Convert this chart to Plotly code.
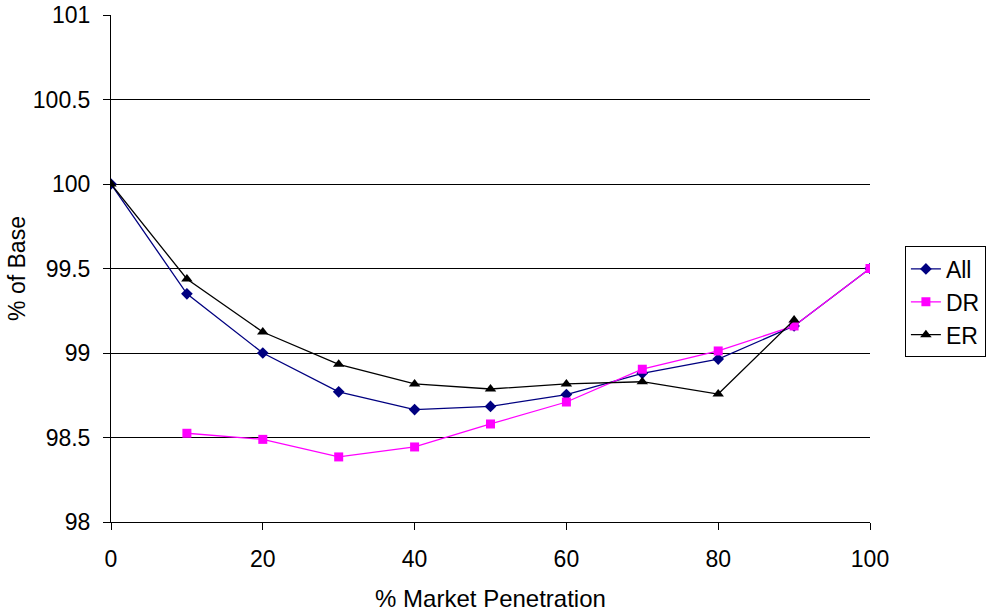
import plotly.graph_objects as go

x_all = [0, 10, 20, 30, 40, 50, 60, 70, 80, 90, 100]
all_vals = [100.0, 99.35, 99.0, 98.77, 98.665, 98.684, 98.754, 98.88, 98.964, 99.16, 99.5]
x_dr = [10, 20, 30, 40, 50, 60, 70, 80, 90, 100]
dr_vals = [98.525, 98.489, 98.385, 98.444, 98.58, 98.71, 98.904, 99.012, 99.16, 99.5]
x_er = [0, 10, 20, 30, 40, 50, 60, 70, 80, 90]
er_vals = [100.0, 99.438, 99.124, 98.933, 98.817, 98.787, 98.817, 98.83, 98.757, 99.195]

y_ticks = [98, 98.5, 99, 99.5, 100, 100.5, 101]
y_labels = ["98", "98.5", "99", "99.5", "100", "100.5", "101"]
x_ticks = [0, 20, 40, 60, 80, 100]

FONT = "Liberation Sans, Arial, sans-serif"
FS = 23
FT = 24

fig = go.Figure()
fig.add_trace(go.Scatter(x=x_all, y=all_vals, name="All", mode="lines+markers",
                         line=dict(color="#000080", width=1.3),
                         marker=dict(symbol="diamond", size=9, color="#000080")))
fig.add_trace(go.Scatter(x=x_dr, y=dr_vals, name="DR", mode="lines+markers",
                         line=dict(color="#FF00FF", width=1.3),
                         marker=dict(symbol="square", size=9, color="#FF00FF")))
fig.add_trace(go.Scatter(x=x_er, y=er_vals, name="ER", mode="lines+markers",
                         line=dict(color="#000000", width=1.3),
                         marker=dict(symbol="triangle-up", size=10, color="#000000")))

fig.update_layout(
    width=987, height=614,
    margin=dict(l=111, r=117, t=15, b=92, autoexpand=False),
    paper_bgcolor="white", plot_bgcolor="white",
    font=dict(family=FONT, size=FS, color="black"),
    legend=dict(x=1.046, y=0.434, xanchor="left", yanchor="middle",
                bordercolor="black", borderwidth=1, bgcolor="white",
                font=dict(size=FS), tracegroupgap=0, itemwidth=30),
    showlegend=True,
)
fig.update_xaxes(range=[0, 100], tickvals=x_ticks, showgrid=False,
                 showline=True, linecolor="black", linewidth=1,
                 ticks="outside", ticklen=7, tickcolor="black",
                 ticklabelstandoff=9, automargin=False,
                 title=dict(text="% Market Penetration", font=dict(size=FT), standoff=19),
                 zeroline=False)
fig.update_yaxes(range=[98, 101], tickvals=y_ticks, ticktext=y_labels,
                 showgrid=True, gridcolor="black", gridwidth=1,
                 showline=True, linecolor="black", linewidth=1,
                 ticks="outside", ticklen=7, tickcolor="black",
                 ticklabelstandoff=8, automargin=False,
                 title=dict(text="% of Base", font=dict(size=FS), standoff=0),
                 zeroline=False)

fig.write_html("out.html")
